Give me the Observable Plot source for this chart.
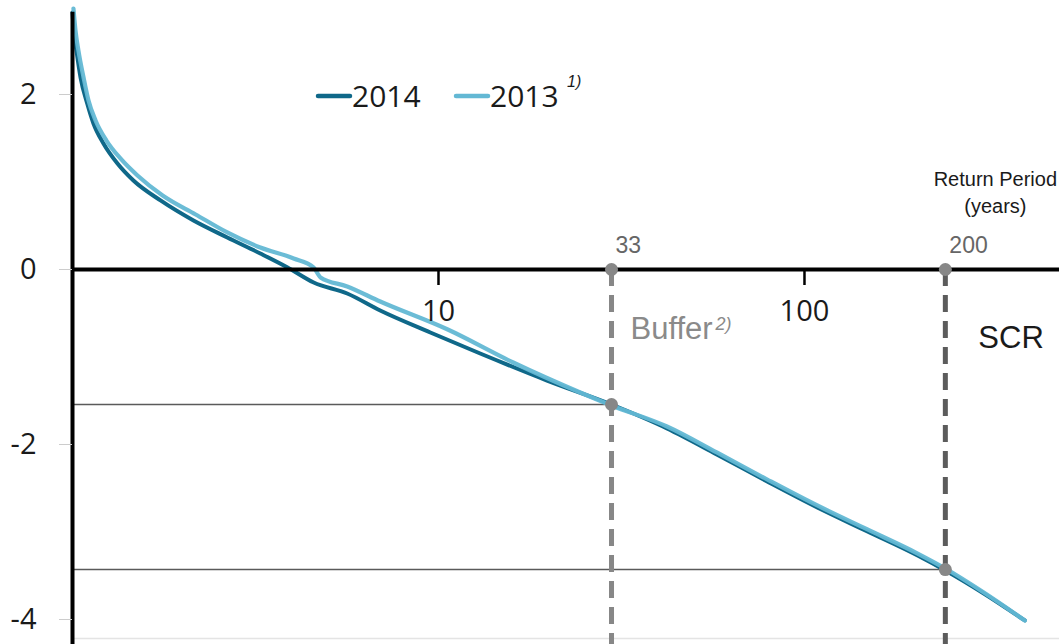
<!DOCTYPE html>
<html>
<head>
<meta charset="utf-8">
<script src="https://cdn.jsdelivr.net/npm/d3@7"></script>
<script src="https://cdn.jsdelivr.net/npm/@observablehq/plot@0.6"></script>
<style>
  html, body { margin: 0; padding: 0; background: #fff; overflow: hidden; }
  #chart svg { display: block; }
</style>
</head>
<body>
<div id="chart"></div>
<script>
// ---- Data ----
const seriesNames = ["2014", "2013"];
const seriesColors = ["#0f6889", "#63b8d4"];

const period2014 = [1.000, 1.008, 1.025, 1.052, 1.097, 1.141, 1.215, 1.327, 1.467, 1.740, 2.141, 2.648, 3.26, 3.87, 4.56, 5.63, 6.93, 9.50, 13.0, 19.8, 29.7, 42.1, 57.6, 79.1, 108.4, 148.6, 203.8, 242.6, 309, 400];
const value2014  = [2.937, 2.731, 2.503, 2.194, 1.897, 1.669, 1.440, 1.211, 1.017, 0.789, 0.560, 0.366, 0.183, 0.023, -0.149, -0.274, -0.469, -0.720, -0.960, -1.269, -1.543, -1.817, -2.114, -2.423, -2.720, -2.994, -3.269, -3.440, -3.703, -4.011];

const period2013 = [1.006, 1.019, 1.038, 1.072, 1.106, 1.156, 1.238, 1.352, 1.505, 1.763, 2.17, 2.648, 3.26, 4.02, 4.56, 4.76, 5.63, 6.93, 10.6, 16.0, 24.4, 29.7, 42.1, 57.6, 79.1, 108.4, 148.6, 203.8, 242.6, 309, 400];
const value2013  = [2.983, 2.731, 2.503, 2.194, 1.931, 1.703, 1.474, 1.269, 1.074, 0.846, 0.629, 0.423, 0.251, 0.126, 0.023, -0.091, -0.194, -0.366, -0.686, -1.063, -1.406, -1.554, -1.794, -2.091, -2.400, -2.697, -2.971, -3.246, -3.417, -3.691, -4.011];

const markerNames   = ["Buffer", "SCR"];
const markerLabels  = ["33", "200"];
const markerPeriods = [29.7, 242.6];
const markerValues  = [-1.543, -3.429];

const xTicks = [10, 100];
const yTicks = [-4, -2, 0, 2];
const xDomain = [1, 497.5];
const yDomain = [-4.2857, 3.0743];
const yAxisTop = 2.94;
const plotFloor = -4.217;
const axisTitle = "Return Period\n(years)";

// ---- Tables built from the arrays ----
const rows2014 = period2014.map((p, i) => ({period: p, value: value2014[i]}));
const rows2013 = period2013.map((p, i) => ({period: p, value: value2013[i]}));
const markers = markerNames.map((name, i) => ({name, label: markerLabels[i], period: markerPeriods[i], value: markerValues[i]}));
const markerDots = markers.flatMap(m => [{period: m.period, value: 0}, {period: m.period, value: m.value}]);

const sans = "Liberation Sans, Arial, sans-serif";

function legendMark() {
  const g = d3.create("svg:g").attr("text-anchor", "start");
  const items = [
    {x1: 318, x2: 350, tx: 352},
    {x1: 456, x2: 488, tx: 490}
  ];
  items.forEach((it, i) => {
    g.append("line")
      .attr("x1", it.x1).attr("x2", it.x2)
      .attr("y1", 96).attr("y2", 96)
      .attr("stroke", seriesColors[i]).attr("stroke-width", 4.5)
      .attr("stroke-linecap", "round");
    g.append("text")
      .attr("x", it.tx).attr("y", 107)
      .attr("text-anchor", "start")
      .attr("font-family", "Open Sans, sans-serif")
      .attr("font-size", 30)
      .attr("fill", "#1a1a1a")
      .text(seriesNames[i]);
  });
  g.append("text")
    .attr("x", 567).attr("y", 87)
    .attr("text-anchor", "start")
    .attr("font-family", sans)
    .attr("font-size", 16)
    .attr("font-style", "italic")
    .attr("fill", "#1a1a1a")
    .text("1)");
  return g.node();
}

const chart = Plot.plot({
  width: 1059,
  height: 644,
  marginLeft: 72,
  marginRight: 0,
  marginTop: 0,
  marginBottom: 0,
  style: {fontFamily: "Open Sans, sans-serif", fontSize: "29px", background: "#fff", overflow: "visible"},
  x: {type: "log", domain: xDomain},
  y: {domain: yDomain},
  marks: [
    Plot.ruleY([plotFloor], {x1: xDomain[0], x2: xDomain[1], stroke: "#e4e4e4", strokeWidth: 1.5}),
    Plot.ruleY(markers, {y: "value", x1: xDomain[0], x2: "period", stroke: "#5a5a5a", strokeWidth: 1.5}),
    Plot.ruleX([markers[0]], {x: "period", y1: 0, y2: yDomain[0], stroke: "#878787", strokeWidth: 5, strokeDasharray: "17,9"}),
    Plot.ruleX([markers[1]], {x: "period", y1: 0, y2: yDomain[0], stroke: "#5c5c5c", strokeWidth: 5, strokeDasharray: "17,9"}),
    Plot.line(rows2014, {x: "period", y: "value", stroke: seriesColors[0], strokeWidth: 4, curve: "monotone-x"}),
    Plot.line(rows2013, {x: "period", y: "value", stroke: seriesColors[1], strokeWidth: 4.2, strokeOpacity: 0.95, curve: "monotone-x"}),
    Plot.ruleX([xDomain[0]], {y1: yAxisTop, y2: yDomain[0], stroke: "#000", strokeWidth: 4}),
    Plot.ruleY([0], {x1: xDomain[0], x2: xDomain[1], stroke: "#000", strokeWidth: 4}),
    Plot.dot(markerDots, {x: "period", y: "value", r: 6.5, fill: "#878787", stroke: "none"}),
    Plot.axisY({ticks: yTicks, tickSize: 13, tickPadding: 23, stroke: "#cccccc", fill: "#1a1a1a", fontSize: 29, tickFormat: d => String(d), label: null}),
    Plot.axisX({anchor: "bottom", ticks: xTicks, tickSize: 15, tickPadding: 15, dy: -(644 - 270), stroke: "#000", strokeWidth: 2.5, fill: "#1a1a1a", fontSize: 29, tickFormat: d => String(d), label: null}),
    Plot.text(markers, {x: "period", y: 0, text: "label", textAnchor: "start", lineAnchor: "bottom", dx: 4, dy: -17, fontSize: 23, fontFamily: sans, fill: "#666"}),
    Plot.text([markers[0]], {x: "period", y: 0, text: "name", textAnchor: "start", lineAnchor: "bottom", dx: 19, dy: 69, fontSize: 31, fontFamily: sans, fill: "#8a8a8a"}),
    Plot.text([markers[0]], {x: "period", y: 0, text: () => "2)", textAnchor: "start", lineAnchor: "bottom", dx: 104, dy: 60, fontSize: 18, fontStyle: "italic", fontFamily: sans, fill: "#8a8a8a"}),
    Plot.text([markers[1]], {x: "period", y: 0, text: "name", textAnchor: "start", lineAnchor: "bottom", dx: 33, dy: 78, fontSize: 31, fontFamily: sans, fill: "#1a1a1a"}),
    Plot.text([axisTitle], {x: markerPeriods[1], y: 0, text: d => d, textAnchor: "middle", lineAnchor: "bottom", lineHeight: 1.35, dx: 50, dy: -57, fontSize: 20, fontFamily: sans, fill: "#1a1a1a"}),
    legendMark
  ]
});

document.getElementById("chart").appendChild(chart);
</script>
</body>
</html>
